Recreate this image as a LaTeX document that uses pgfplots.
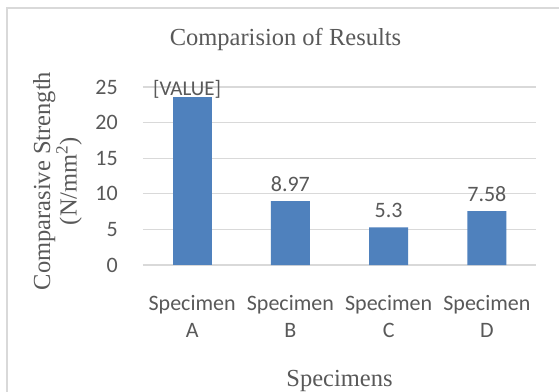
\documentclass[border=0pt]{standalone}
\usepackage{fontspec}
\setmainfont{Liberation Serif}
\newfontfamily\calibri{Carlito}
\usepackage{pgfplots}
\pgfplotsset{compat=1.18}
\definecolor{barblue}{HTML}{4F81BD}
\definecolor{txtgray}{HTML}{595959}
\definecolor{gridgray}{HTML}{D9D9D9}
\begin{document}
\begin{tikzpicture}
\path[use as bounding box] (-143bp,-127bp) rectangle (416bp,265bp);
\fill[white] (-143bp,-127bp) rectangle (416bp,265bp);
\draw[gridgray, line width=1.5bp] (-136bp,-135bp) -- (-136bp,257bp) -- (425bp,257bp);
\begin{axis}[
  at={(0,0)}, anchor=south west,
  scale only axis, width=393bp, height=178bp,
  clip=false,
  xmin=-0.5, xmax=3.5, ymin=0, ymax=25,
  ytick={0,5,10,15,20,25},
  xtick={0,1,2,3},
  xticklabels={Specimen\\A, Specimen\\B, Specimen\\C, Specimen\\D},
  axis line style={draw=none},
  ymajorgrids, grid style={gridgray, line width=1.2bp},
  major tick length=0pt,
  /pgf/number format/assume math mode=true,
  yticklabel style={font={\calibri\fontsize{22bp}{27bp}\selectfont}, text=txtgray, anchor=east, inner sep=0pt, xshift=-25bp},
  xticklabel style={font={\calibri\fontsize{22bp}{27bp}\selectfont}, text=txtgray, align=center, anchor=north, inner sep=0pt, yshift=-30bp},
  title={Comparision of Results},
  title style={at={(axis description cs:0.3626,1.1983)}, anchor=base, font=\fontsize{24.5bp}{28bp}\selectfont, text=txtgray, inner sep=0pt},
  ylabel={Comparasive Strength\\(N/mm\textsuperscript{2})},
  ylabel style={at={(axis description cs:-0.2175,0.4719)}, anchor=center, align=center, font=\fontsize{24.5bp}{25bp}\selectfont, text=txtgray, inner sep=0pt},
  xlabel={Specimens},
  xlabel style={at={(axis description cs:0.5,-0.6837)}, anchor=base, font=\fontsize{24.5bp}{28bp}\selectfont, text=txtgray, inner sep=0pt},
]
\addplot[ybar, bar width=39bp, bar shift=0pt, fill=barblue, draw=none,
  point meta=explicit symbolic, nodes near coords,
  every node near coord/.style={font={\calibri\fontsize{21bp}{27bp}\selectfont}, text=txtgray, anchor=base, inner sep=0pt, yshift=1.7bp, xshift=-5bp}]
  coordinates {(0,23.6) [\lbrack VALUE\rbrack]};
\addplot[ybar, bar width=39bp, bar shift=0pt, fill=barblue, draw=none,
  point meta=explicit symbolic, nodes near coords,
  every node near coord/.style={font={\calibri\fontsize{22bp}{27bp}\selectfont}, text=txtgray, anchor=base, inner sep=0pt, yshift=9.6bp}]
  coordinates {(1,8.97) [8.97] (2,5.3) [5.3] (3,7.58) [7.58]};
\end{axis}
\end{tikzpicture}
\end{document}
